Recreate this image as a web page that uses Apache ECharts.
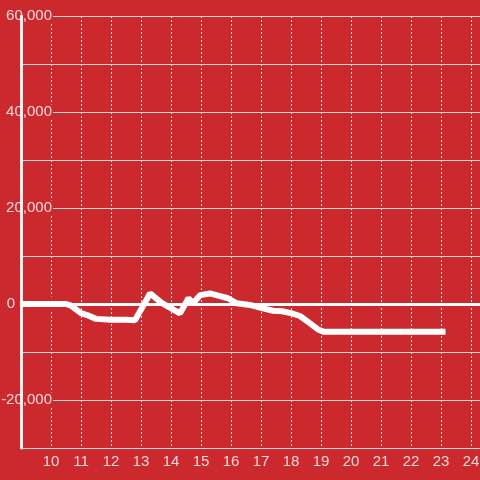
<!DOCTYPE html>
<html>
<head>
<meta charset="utf-8">
<script src="https://cdn.jsdelivr.net/npm/echarts@6/dist/echarts.min.js"></script>
<style>
  html, body { margin: 0; padding: 0; background: #cc292e; }
  #chart { width: 480px; height: 480px; }
</style>
</head>
<body>
<div id="chart"></div>
<script>
// hour of day
const hours = [9, 10.5, 10.65, 11, 11.2, 11.5, 12, 12.5, 12.8, 13.3, 13.7, 14.3, 14.58, 14.74, 14.97, 15.3, 15.63, 15.9, 16.19, 16.63, 17, 17.4, 17.7, 18, 18.3, 18.6, 18.9, 19.1, 23.15]
const values = [0, 0, -300, -1900, -2300, -3100, -3300, -3300, -3400, 2200, 200, -1950, 1200, 150, 1850, 2200, 1650, 1200, 150, -200, -800, -1400, -1500, -1900, -2500, -3900, -5300, -5800, -5800]
const yLabelValues = [-20000, 0, 20000, 40000, 60000]

const labelColor = "rgba(255,255,255,0.82)"
const bg = "#cc292e"

const chart = echarts.init(document.getElementById("chart"))

chart.setOption({
  backgroundColor: bg,
  animation: false,
  grid: { left: 21, top: 16, width: 480, height: 432, outerBoundsMode: "none", containLabel: false },
  xAxis: {
    type: "value",
    min: 9,
    max: 25,
    interval: 1,
    axisLine: { show: false },
    axisTick: { show: false },
    axisLabel: {
      showMinLabel: false,
      color: labelColor,
      fontSize: 15,
      fontFamily: "Liberation Sans",
      margin: 6,
    },
    splitLine: { lineStyle: { color: "#e8e8e8", type: [2, 2], width: 1 } },
  },
  yAxis: [
    {
      type: "value",
      position: "left",
      min: -30000,
      max: 60000,
      interval: 10000,
      z: 1,
      axisLine: { show: false },
      axisTick: { show: false },
      axisLabel: {
        margin: -32,
        color: labelColor,
        fontSize: 15,
        fontFamily: "Liberation Sans",
        backgroundColor: bg,
        padding: [0, 1, 0, 0],
        formatter: (v) => {
          if (!yLabelValues.includes(v)) return ""
          if (v === 0) return "{z|0}"
          return v.toLocaleString("en-US")
        },
        rich: {
          z: { padding: [0, 37, 0, 0], color: labelColor, fontSize: 15, fontFamily: "Liberation Sans" },
        },
      },
      splitLine: { lineStyle: { color: "#d6d6d6", width: 1 } },
    },
    {
      type: "value",
      position: "left",
      offset: 0,
      min: -30000,
      max: 60000,
      interval: 10000,
      z: 1.5,
      axisLine: { show: true, lineStyle: { color: "#f2f2f2", width: 3 } },
      axisTick: { show: false },
      axisLabel: { show: false },
      splitLine: { show: false },
    },
  ],
  series: [
    {
      type: "line",
      yAxisIndex: 0,
      z: 3,
      symbol: "none",
      lineStyle: { color: "#ffffff", width: 6 },
      data: hours.map((h, i) => [h, values[i]]),
      markLine: {
        silent: true,
        symbol: "none",
        label: { show: false },
        lineStyle: { color: "#ffffff", width: 3, type: "solid" },
        data: [{ yAxis: 0 }],
      },
    },
  ],
})
</script>
</body>
</html>
